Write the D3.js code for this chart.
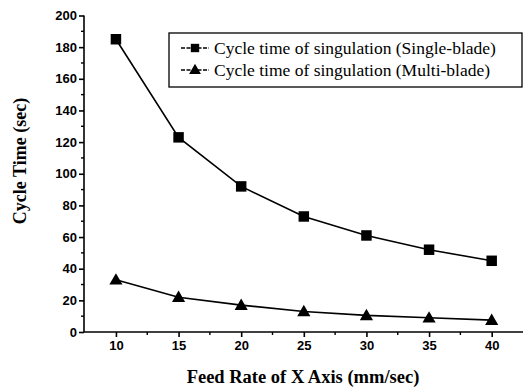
<!DOCTYPE html>
<html><head><meta charset="utf-8">
<script src="https://cdn.jsdelivr.net/npm/d3@7"></script>
<style>body{margin:0;background:#fff}svg{display:block}</style>
</head><body>
<script>
const feedRates = [10, 15, 20, 25, 30, 35, 40];
const singleBlade = [185, 123, 92, 73, 61, 52, 45];
const multiBlade = [33, 22, 17, 13, 10.5, 9, 7.5];
const xTicks = [10, 15, 20, 25, 30, 35, 40];
const yTicks = [0, 20, 40, 60, 80, 100, 120, 140, 160, 180, 200];
const seriesNames = ["Cycle time of singulation (Single-blade)", "Cycle time of singulation (Multi-blade)"];

const W = 523, H = 388;
const svg = d3.select("body").append("svg").attr("width", W).attr("height", H);
const x = d3.scaleLinear().domain([7.45, 42.5]).range([84, 523]);
const y = d3.scaleLinear().domain([0, 200]).range([332, 15.5]);

// axes
const xAxis = d3.axisBottom(x).tickValues(xTicks).tickSize(5).tickPadding(4).tickFormat(d3.format("d"));
const gx = svg.append("g").attr("transform", "translate(0,332)").call(xAxis);
gx.select(".domain").attr("d", `M84,0H523`);
const yAxis = d3.axisLeft(y).tickValues(yTicks).tickSize(5).tickPadding(2).tickFormat(d3.format("d"));
const gy = svg.append("g").attr("transform", "translate(84,0)").call(yAxis);
gy.select(".domain").attr("d", `M0,15.5V332`);
[gx, gy].forEach(g => {
  g.selectAll("path,line").attr("stroke", "#000").attr("stroke-width", 1.6);
  g.selectAll("text").attr("font-family", "Liberation Sans, Arial, sans-serif").attr("font-size", 13).attr("font-weight", "bold").attr("fill", "#000");
});
// minor ticks
const xMinor = d3.range(12.5, 42.5, 5);
svg.append("g").selectAll("line").data(xMinor).join("line")
  .attr("x1", d => x(d)).attr("x2", d => x(d)).attr("y1", 332).attr("y2", 335)
  .attr("stroke", "#000").attr("stroke-width", 1.4);
const yMinor = d3.range(10, 200, 20);
svg.append("g").selectAll("line").data(yMinor).join("line")
  .attr("x1", 84).attr("x2", 81).attr("y1", d => y(d)).attr("y2", d => y(d))
  .attr("stroke", "#000").attr("stroke-width", 1.4);

// axis titles
svg.append("text").attr("x", 303).attr("y", 383).attr("text-anchor", "middle")
  .attr("font-family", "Liberation Serif, Times New Roman, serif").attr("font-weight", "bold").attr("font-size", 18.5)
  .text("Feed Rate of X Axis (mm/sec)");
svg.append("text").attr("transform", "translate(26,161) rotate(-90)").attr("text-anchor", "middle")
  .attr("font-family", "Liberation Serif, Times New Roman, serif").attr("font-weight", "bold").attr("font-size", 18)
  .text("Cycle Time (sec)");

// lines
const line = d3.line().x((d, i) => x(feedRates[i])).y(d => y(d));
svg.append("path").attr("d", line(singleBlade)).attr("fill", "none").attr("stroke", "#000").attr("stroke-width", 1.6);
svg.append("path").attr("d", line(multiBlade)).attr("fill", "none").attr("stroke", "#000").attr("stroke-width", 1.6);

const sq = d3.symbol().type(d3.symbolSquare).size(110);
const tri = d3.symbol().type(d3.symbolTriangle).size(75);
svg.append("g").selectAll("path").data(singleBlade).join("path")
  .attr("d", sq).attr("transform", (d, i) => `translate(${x(feedRates[i])},${y(d)})`).attr("fill", "#000");
svg.append("g").selectAll("path").data(multiBlade).join("path")
  .attr("d", tri).attr("transform", (d, i) => `translate(${x(feedRates[i])},${y(d) + 1})`).attr("fill", "#000");

// legend
const lg = svg.append("g");
lg.append("rect").attr("x", 169).attr("y", 33).attr("width", 353).attr("height", 54)
  .attr("fill", "#fff").attr("stroke", "#000").attr("stroke-width", 1.3);
const rows = [48, 70];
[sq, tri].forEach((sym, i) => {
  lg.append("line").attr("x1", 181).attr("x2", 209).attr("y1", rows[i]).attr("y2", rows[i])
    .attr("stroke", "#000").attr("stroke-width", 1.3).attr("stroke-dasharray", "4,1.5");
  lg.append("path").attr("d", sym.size(i ? 60 : 70)()).attr("transform", `translate(195,${rows[i] + (i ? 0.5 : 0)})`).attr("fill", "#000");
  lg.append("text").attr("x", 214).attr("y", rows[i] + 5.5)
    .attr("font-family", "Liberation Serif, Times New Roman, serif").attr("font-size", 17.5)
    .text(seriesNames[i]);
});
</script>
</body></html>
